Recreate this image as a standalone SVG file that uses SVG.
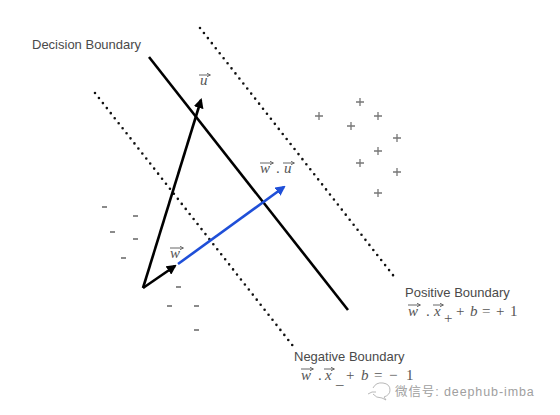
<svg xmlns="http://www.w3.org/2000/svg" width="560" height="415" viewBox="0 0 560 415">
<defs>
<style>
.lbl{font-family:"Liberation Sans",Arial,sans-serif;font-size:13px;fill:#4a4a4a}
.m{font-family:"Liberation Serif","Times New Roman",serif;font-size:15px;fill:#555}
.mi{font-style:italic}
.dot{stroke:#111;stroke-width:2.6;stroke-linecap:round;stroke-dasharray:0 6.4;fill:none}
.solid{stroke:#000;stroke-width:2.6;fill:none}
.va{stroke:#555;stroke-width:0.9;fill:none}
.pl{stroke:#777;stroke-width:1.3}
.mn{stroke:#666;stroke-width:1.3}
.wm{font-family:"Liberation Sans","Noto Sans CJK SC",sans-serif;font-size:12.5px;fill:#a0a0a0;letter-spacing:0.9px}
</style>
<marker id="ah" markerWidth="10" markerHeight="10" refX="8" refY="5" orient="auto" markerUnits="userSpaceOnUse" viewBox="0 0 10 10"><path d="M0,0 L10,5 L0,10 Z" fill="#000"/></marker>
<marker id="ahb" markerWidth="10" markerHeight="10" refX="8" refY="5" orient="auto" markerUnits="userSpaceOnUse" viewBox="0 0 10 10"><path d="M0,0 L10,5 L0,10 Z" fill="#1f4fd8"/></marker>
<marker id="sa" markerWidth="4" markerHeight="4" refX="3.5" refY="2" orient="auto" markerUnits="userSpaceOnUse" viewBox="0 0 4 4"><path d="M0,0 L4,2 L0,4" fill="none" stroke="#555" stroke-width="0.8"/></marker>
</defs>
<rect width="560" height="415" fill="#fff"/>
<g id="connectors">
<line class="dot" x1="200" y1="28" x2="396" y2="279"/>
<line class="dot" x1="95" y1="93" x2="293" y2="346"/>
<line class="solid" x1="149" y1="57" x2="348" y2="310"/>
<line class="solid" x1="143" y1="288" x2="201" y2="100" marker-end="url(#ah)"/>
<line stroke="#1f4fd8" stroke-width="2.6" x1="178" y1="264" x2="284" y2="187" marker-end="url(#ahb)"/>
<line class="solid" x1="143" y1="288" x2="175" y2="266" marker-end="url(#ah)"/>
</g>
<g id="decision-boundary"><text class="lbl" x="32" y="49">Decision Boundary</text></g>
<g id="label-u"><text class="m mi" x="200" y="85">u</text><line class="va" x1="199" y1="75" x2="210" y2="75" marker-end="url(#sa)"/></g>
<g id="label-w"><text class="m mi" x="170" y="258">w</text><line class="va" x1="170" y1="248" x2="183" y2="248" marker-end="url(#sa)"/></g>
<g id="label-wu"><text class="m mi" x="260" y="173">w</text><text class="m" x="276" y="173">.</text><text class="m mi" x="284" y="173">u</text><line class="va" x1="260" y1="163" x2="273" y2="163" marker-end="url(#sa)"/><line class="va" x1="283" y1="163" x2="294" y2="163" marker-end="url(#sa)"/></g>
<g id="positive-points">
<path class="pl" d="M356,102h8M360,98v8 M315,116h8M319,112v8 M374,116h8M378,112v8 M347,126h8M351,122v8 M393,138h8M397,134v8 M374,151h8M378,147v8 M356,163h8M360,159v8 M393,172h8M397,168v8 M374,193h8M378,189v8"/>
</g>
<g id="negative-points">
<path class="mn" d="M102,207h5 M133,216h5 M110,232h5 M133,239h5 M121,258h5 M176,287h5 M167,306h5 M194,306h5 M194,330h5"/>
</g>
<g id="positive-boundary">
<text class="lbl" x="405" y="297">Positive Boundary</text>
<text class="m mi" x="408" y="316">w</text><line class="va" x1="408" y1="305" x2="420" y2="305" marker-end="url(#sa)"/>
<text class="m" x="426" y="316">.</text>
<text class="m mi" x="434" y="316">x</text><line class="va" x1="433" y1="305" x2="443" y2="305" marker-end="url(#sa)"/>
<text class="m" x="444" y="323" font-size="11">+</text>
<text class="m" x="456" y="316">+</text>
<text class="m mi" x="470" y="316">b</text>
<text class="m" x="482" y="316">=</text>
<text class="m" x="496" y="316">+</text>
<text class="m" x="510" y="316">1</text>
</g>
<g id="negative-boundary">
<text class="lbl" x="294" y="361">Negative Boundary</text>
<text class="m mi" x="301" y="380">w</text><line class="va" x1="301" y1="369" x2="313" y2="369" marker-end="url(#sa)"/>
<text class="m" x="318" y="380">.</text>
<text class="m mi" x="325" y="380">x</text><line class="va" x1="324" y1="369" x2="334" y2="369" marker-end="url(#sa)"/>
<text class="m" x="336" y="384" font-size="11">_</text>
<text class="m" x="346" y="380">+</text>
<text class="m mi" x="361" y="380">b</text>
<text class="m" x="374" y="380">=</text>
<text class="m" x="389" y="380">−</text>
<text class="m" x="406" y="380">1</text>
</g>
<g id="watermark">
<path d="M368,394 q4,-3 8,-2 M373,388 q3,-6 10,-5 q7,1 7,7 q0,5 -6,7 l2,3 l-4,-2 q-6,0 -9,-4" fill="none" stroke="#b0b0b0" stroke-width="0.9"/>
<text class="wm" x="395" y="396">微信号: deephub-imba</text>
</g>
</svg>
